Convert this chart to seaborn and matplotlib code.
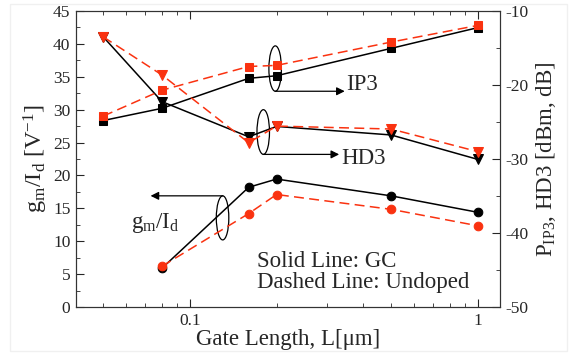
import matplotlib
matplotlib.use("Agg")
import matplotlib.pyplot as plt
import numpy as np
import pandas as pd
import seaborn as sns
from matplotlib.patches import Ellipse, Rectangle
from matplotlib.ticker import FixedLocator, MultipleLocator, NullFormatter

# gate length [um]
gate_len = [0.05, 0.08, 0.16, 0.2, 0.5, 1.0]
gm_len = [0.08, 0.16, 0.2, 0.5, 1.0]

# gm/Id [1/V] (left axis)
gm_gc = [5.9, 18.2, 19.45, 16.9, 14.4]
gm_undoped = [6.2, 14.2, 17.1, 14.85, 12.35]

# P_IP3 [dBm] and HD3 [dB] (right axis)
ip3_gc = [-24.8, -23.15, -19.1, -18.75, -15.05, -12.25]
ip3_undoped = [-24.2, -20.7, -17.5, -17.35, -14.2, -11.95]
hd3_gc = [-13.5, -22.25, -27.0, -25.6, -26.75, -30.05]
hd3_undoped = [-13.5, -18.65, -27.8, -25.55, -25.95, -29.0]

RED = "#fa3210"
BLACK = "black"

sns.set_style("ticks")
plt.rcParams["font.family"] = ["Liberation Serif", "DejaVu Serif"]
plt.rcParams["mathtext.fontset"] = "custom"
plt.rcParams["mathtext.rm"] = "Liberation Serif"
plt.rcParams["mathtext.it"] = "Liberation Serif:italic"
plt.rcParams["axes.unicode_minus"] = False
plt.rcParams["xtick.direction"] = "in"
plt.rcParams["ytick.direction"] = "in"

fig = plt.figure(figsize=(5.76, 3.55), dpi=100)
# faint outer frame as in the original export
fig.patches.append(Rectangle((10 / 576, 4 / 355), 557 / 576, 347 / 355, transform=fig.transFigure,
                             fill=False, edgecolor="#f0f0f0", linewidth=1))
ax = fig.add_axes([76 / 576, 48 / 355, 424 / 576, 296 / 355])
ax2 = ax.twinx()

MSIZE = {"o": 6.2, "s": 5.6, "v": 7.2}


def draw(axis, x, y, color, marker, dashed):
    df = pd.DataFrame({"L": x, "v": y})
    sns.lineplot(
        data=df, x="L", y="v", ax=axis, color=color, marker=marker,
        markersize=MSIZE[marker], markeredgecolor=color,
        linewidth=1.1, linestyle=(0, (6.5, 3.5)) if dashed else "-",
        errorbar=None, legend=False,
    )


draw(ax, gm_len, gm_gc, BLACK, "o", False)
draw(ax, gm_len, gm_undoped, RED, "o", True)
draw(ax2, gate_len, ip3_gc, BLACK, "s", False)
draw(ax2, gate_len, hd3_gc, BLACK, "v", False)
draw(ax2, gate_len, ip3_undoped, RED, "s", True)
draw(ax2, gate_len, hd3_undoped, RED, "v", True)

ax.set_xscale("log")
ax.set_xlim(0.0402, 1.195)
ax.set_ylim(0, 45)
ax2.set_ylim(-50, -10)

ax.xaxis.set_major_locator(FixedLocator([0.1, 1]))
ax.set_xticklabels(["0.1", "1"])
ax.xaxis.set_minor_formatter(NullFormatter())
ax.yaxis.set_major_locator(MultipleLocator(5))
ax.yaxis.set_minor_locator(MultipleLocator(2.5))
ax2.yaxis.set_major_locator(MultipleLocator(10))
ax2.yaxis.set_minor_locator(MultipleLocator(5))

ax.tick_params(which="both", top=True, right=False, labelsize=12.5, pad=4)
ax.tick_params(which="major", length=6)
ax.tick_params(which="minor", length=3)
ax2.tick_params(which="major", length=6, labelsize=12.5, direction="in", pad=4)
ax2.tick_params(which="minor", length=3, direction="in")

ax.set_xlabel("Gate Length, L[μm]", fontsize=16.5, labelpad=0)
ax.set_ylabel(r"g$_\mathrm{m}$/I$_\mathrm{d}$ [V$^\mathrm{-1}$]", fontsize=17.5, labelpad=2)
ax2.set_ylabel(r"P$_\mathrm{IP3}$, HD3 [dBm, dB]", fontsize=16.5, labelpad=4)
for a in (ax, ax2):
    for s in a.spines.values():
        s.set_linewidth(0.8)
        s.set_color("#333333")


# annotation ellipses + arrows (in left-axis data coordinates)
def group_label(xc, y_lo, y_hi, x_end, text, text_xy, left=False):
    ax.add_patch(Ellipse((xc, (y_lo + y_hi) / 2), width=xc * 0.1, height=y_hi - y_lo,
                         fill=False, edgecolor="black", linewidth=0.9))
    y_arrow = y_hi if left else y_lo
    ax.annotate("", xy=(x_end, y_arrow), xytext=(xc, y_arrow),
                arrowprops=dict(arrowstyle="-|>", color="black", lw=0.9,
                                mutation_scale=12, shrinkA=0, shrinkB=0))
    ax.text(text_xy[0], text_xy[1], text, fontsize=16.5, ha="left", va="center")


group_label(0.198, 32.8, 39.7, 0.345, "IP3", (0.35, 33.8))
group_label(0.18, 23.2, 30.0, 0.33, "HD3", (0.335, 22.6))
group_label(0.13, 10.2, 16.9, 0.073, r"g$_\mathrm{m}$/I$_\mathrm{d}$", (0.0625, 12.8), left=True)

ax.text(0.171, 6.85, "Solid Line: GC", fontsize=16.5, ha="left", va="center")
ax.text(0.171, 3.65, "Dashed Line: Undoped", fontsize=16.5, ha="left", va="center")

fig.savefig("out.png", dpi=100)
